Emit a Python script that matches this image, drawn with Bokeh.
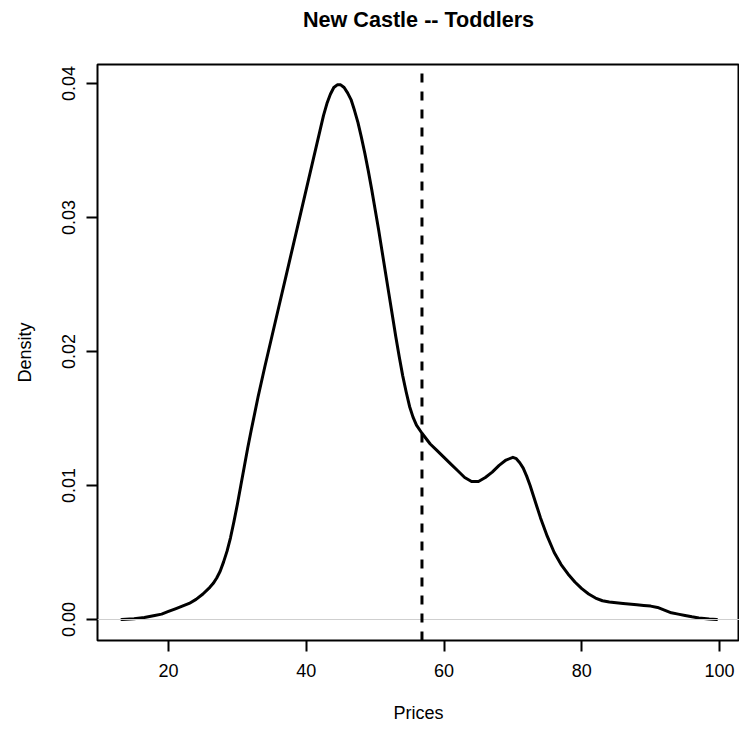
from bokeh.plotting import figure
from bokeh.models import Range1d, FixedTicker, PrintfTickFormatter, Span, Title
from bokeh.embed import file_html
from bokeh.resources import INLINE

# ---- data ----
price = [13.2, 15.0, 16.5, 18.0, 19.0, 20.0, 21.0, 22.0, 23.0, 24.0, 25.0,
         26.0, 26.5, 27.0, 27.5, 28.0, 28.5, 29.0, 29.5, 30.0, 30.5, 31.0, 31.5,
         32.0, 33.0, 34.0, 35.0, 36.0, 37.0, 38.0, 39.0, 40.0, 41.0, 41.5, 42.0,
         42.5, 43.0, 43.5, 44.0, 44.5, 45.0, 45.5, 46.0, 46.5, 47.0, 47.5, 48.0,
         48.5, 49.0, 49.5, 50.0, 50.5, 51.0, 51.5, 52.0, 52.5, 53.0, 53.5, 54.0,
         54.5, 55.0, 55.5, 56.0, 56.8, 58.0, 59.0, 60.0, 61.0, 62.0, 63.0, 64.0,
         65.0, 66.0, 67.0, 68.0, 69.0, 70.0, 70.5, 71.0, 71.5, 72.0, 72.5, 73.0,
         73.5, 74.0, 75.0, 76.0, 77.0, 78.0, 79.0, 80.0, 81.0, 82.0, 83.0, 84.0,
         86.0, 88.0, 89.0, 90.0, 91.0, 92.0, 93.0, 94.0, 95.0, 96.0, 97.0, 98.5, 99.6]
density = [0.00000, 0.00005, 0.00015, 0.0003, 0.0004, 0.0006, 0.0008, 0.0010, 0.0012, 0.0015, 0.0019,
           0.0024, 0.0027, 0.0031, 0.0036, 0.0043, 0.0051, 0.0061, 0.0073, 0.0086, 0.0100, 0.0114, 0.0128,
           0.0141, 0.0166, 0.0189, 0.0211, 0.0233, 0.0255, 0.0277, 0.0299, 0.0321, 0.0343, 0.0354, 0.0365,
           0.0376, 0.0385, 0.0392, 0.0397, 0.0399, 0.0399, 0.0397, 0.0393, 0.0388, 0.0380, 0.0371, 0.0360,
           0.0348, 0.0335, 0.0321, 0.0306, 0.0291, 0.0275, 0.0259, 0.0243, 0.0227, 0.0211, 0.0196, 0.0182,
           0.0170, 0.0159, 0.0151, 0.0145, 0.0139, 0.0131, 0.0126, 0.0121, 0.0116, 0.0111, 0.0106, 0.0103,
           0.0103, 0.0106, 0.0110, 0.0115, 0.0119, 0.0121, 0.0120, 0.0117, 0.0113, 0.0107, 0.0100, 0.0092,
           0.0084, 0.0076, 0.0062, 0.0050, 0.0041, 0.0034, 0.0028, 0.0023, 0.0019, 0.0016, 0.0014, 0.0013,
           0.0012, 0.0011, 0.00105, 0.0010, 0.0009, 0.0007, 0.0005, 0.0004, 0.0003, 0.0002, 0.00012, 0.00004, 0.0000]
mean_price = 56.8
x_ticks = [20, 40, 60, 80, 100]
y_ticks = [0.0, 0.01, 0.02, 0.03, 0.04]
title_text = "New Castle -- Toddlers"

FONT = "Liberation Sans"

x0, x1 = 9.692, 102.9
y0, y1 = -0.001567, 0.041418

p = figure(width=739, height=731, output_backend="svg", toolbar_location=None,
           x_range=Range1d(x0, x1), y_range=Range1d(y0, y1),
           min_border_left=97, min_border_right=0, min_border_top=64, min_border_bottom=91)

# spacer (closest to the frame), then the real title above it
p.add_layout(Title(text=" ", text_font_size="1px", standoff=30), "above")
p.add_layout(Title(text=title_text, text_font=FONT, text_font_size="21.6px",
                   text_font_style="bold", align="center", standoff=0,
                   text_color="black"), "above")

p.grid.visible = False
p.outline_line_color = "black"
p.outline_line_width = 2
p.outline_line_alpha = 1.0
p.background_fill_color = "white"
p.border_fill_color = "white"

for ax in (p.xaxis[0], p.yaxis[0]):
    ax.axis_line_color = None
    ax.major_tick_line_color = "black"
    ax.major_tick_line_width = 2
    ax.major_tick_out = 11
    ax.major_tick_in = 0
    ax.minor_tick_line_color = None
    ax.major_label_text_font = FONT
    ax.major_label_text_font_size = "18px"
    ax.major_label_text_color = "black"
    ax.axis_label_text_font = FONT
    ax.axis_label_text_font_size = "18px"
    ax.axis_label_text_font_style = "normal"
    ax.axis_label_text_color = "black"

p.xaxis[0].ticker = FixedTicker(ticks=x_ticks)
p.yaxis[0].ticker = FixedTicker(ticks=y_ticks)
p.yaxis[0].formatter = PrintfTickFormatter(format="%.2f")
p.yaxis[0].major_label_orientation = "vertical"
p.xaxis[0].major_label_standoff = 12
p.yaxis[0].major_label_standoff = 11
p.xaxis[0].axis_label = "Prices"
p.yaxis[0].axis_label = "Density"
p.xaxis[0].axis_label_standoff = 23
p.yaxis[0].axis_label_standoff = 25

p.add_layout(Span(location=0, dimension="width", line_color="#cfcfcf", line_width=1))
p.line(price, density, line_color="black", line_width=3, line_join="round", line_cap="round")
p.add_layout(Span(location=mean_price, dimension="height", line_color="black",
                  line_width=3, line_dash="9 9", line_dash_offset=9))

open("out.html", "w").write(file_html(p, INLINE))
